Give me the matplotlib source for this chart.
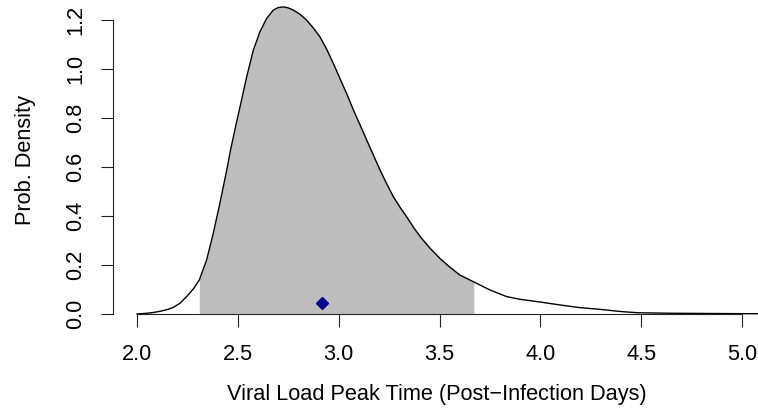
import matplotlib
matplotlib.use("Agg")
import matplotlib.pyplot as plt
import numpy as np

plt.rcParams['font.family'] = ['Liberation Sans', 'DejaVu Sans']

# density curve
days = [2.00, 2.048, 2.08, 2.114, 2.15, 2.18, 2.213, 2.246, 2.28, 2.309, 2.345,
        2.378, 2.411, 2.445, 2.464, 2.49, 2.511, 2.544, 2.577, 2.61, 2.643,
        2.676, 2.70, 2.725, 2.75, 2.775, 2.808, 2.841, 2.874, 2.907, 2.94,
        2.973, 3.006, 3.04, 3.072, 3.106, 3.139, 3.172, 3.205, 3.238, 3.271,
        3.304, 3.337, 3.374, 3.411, 3.456, 3.502, 3.55, 3.601, 3.67, 3.75,
        3.833, 3.899, 3.998, 4.097, 4.196, 4.295, 4.40, 4.484, 4.65, 4.85, 5.09]
density = [0.0, 0.003, 0.006, 0.011, 0.018, 0.027, 0.044, 0.071, 0.103, 0.139, 0.22,
           0.329, 0.452, 0.588, 0.670, 0.770, 0.846, 0.969, 1.078, 1.153, 1.207,
           1.241, 1.251, 1.254, 1.250, 1.241, 1.224, 1.200, 1.168, 1.132, 1.082,
           1.024, 0.962, 0.899, 0.835, 0.772, 0.710, 0.649, 0.588, 0.532, 0.479,
           0.436, 0.397, 0.350, 0.309, 0.266, 0.227, 0.192, 0.159, 0.131, 0.098,
           0.071, 0.060, 0.049, 0.037, 0.026, 0.019, 0.010, 0.005, 0.003, 0.002, 0.001]
interval = [2.309, 3.67]
point_x = [2.917]
point_y = [0.044]

xticks = [2.0, 2.5, 3.0, 3.5, 4.0, 4.5, 5.0]
yticks = [0.0, 0.2, 0.4, 0.6, 0.8, 1.0, 1.2]

W, H = 758, 408
fig = plt.figure(figsize=(W / 100, H / 100), dpi=100)
left_px, right_px, bottom_px, top_px = 113, 760, 314, 6.5
ax = fig.add_axes([left_px / W, (H - bottom_px) / H,
                   (right_px - left_px) / W, (bottom_px - top_px) / H])

d = np.array(days)
p = np.array(density)
mask = (d >= interval[0]) & (d <= interval[1])
ax.fill_between(d[mask], 0, p[mask], color='#BEBEBE', linewidth=0, zorder=1)
ax.plot(d, p, color='black', linewidth=1.0, zorder=2, clip_on=False)
ax.plot(point_x, point_y, marker='D', color='#00008B', markersize=6.6,
        linestyle='none', zorder=3)

ax.set_xlim(1.881, 5.089)
ax.set_ylim(0, 1.2556)

for s in ['top', 'right']:
    ax.spines[s].set_visible(False)
ax.spines['left'].set_bounds(0, 1.2)
ax.spines['bottom'].set_bounds(2.0, 5.0)
for s in ['left', 'bottom']:
    ax.spines[s].set_linewidth(0.8)
    ax.spines[s].set_color('#222222')

ax.set_xticks(xticks)
ax.set_xticklabels([f"{v:.1f}" for v in xticks])
ax.set_yticks(yticks)
ax.set_yticklabels([f"{v:.1f}" for v in yticks], rotation=90, va='center')
ax.tick_params(axis='both', direction='out', length=9, width=0.8,
               color='#222222', labelsize=15.7, labelcolor='black')
ax.tick_params(axis='x', pad=12.5)
ax.tick_params(axis='y', pad=10.5)

ax.set_xlabel("Viral Load Peak Time (Post\u2212Infection Days)", fontsize=15.7,
              va='center')
ax.xaxis.set_label_coords(0.5, -0.262)
ax.set_ylabel("Prob. Density", fontsize=15.7, va='center')
ax.yaxis.set_label_coords(-0.136, 0.5)

fig.savefig("out.png", dpi=100)
